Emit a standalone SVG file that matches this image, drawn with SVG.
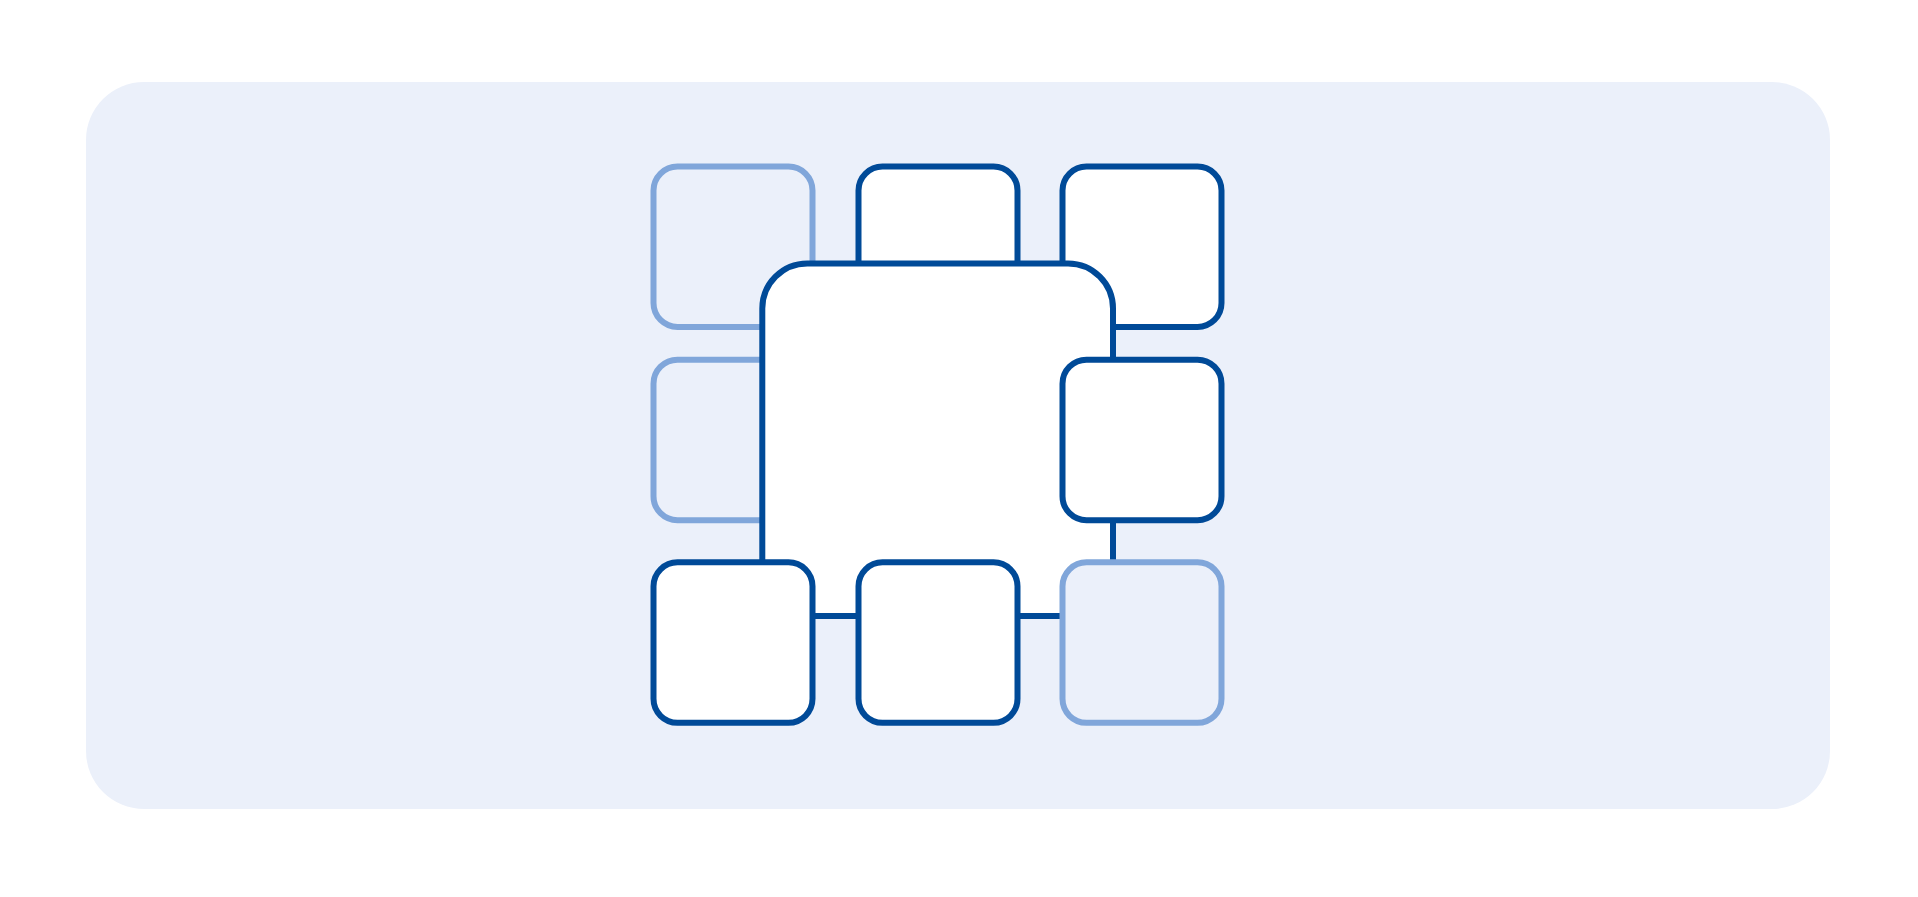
<svg xmlns="http://www.w3.org/2000/svg" width="1918" height="897" viewBox="0 0 1918 897">
  <style>
    .panel { fill: #EBF0FA; }
    .dark { fill: #FFFFFF; stroke: #004A98; stroke-width: 6; }
    .light { fill: #EBF0FA; stroke: #80A6DA; stroke-width: 6; }
  </style>
  <rect width="1918" height="897" fill="#FFFFFF"/>
  <g id="panel">
    <rect class="panel" x="86" y="82" width="1744" height="727" rx="58" ry="58"/>
  </g>
  <g id="tile-r1c1"><rect class="light" x="653.5" y="166.5" width="159" height="160.5" rx="24"/></g>
  <g id="tile-r2c1"><rect class="light" x="653.5" y="359.7" width="159" height="160.5" rx="24"/></g>
  <g id="tile-r1c2"><rect class="dark" x="858.5" y="166.5" width="159" height="160.5" rx="24"/></g>
  <g id="tile-r1c3"><rect class="dark" x="1062.5" y="166.5" width="159" height="160.5" rx="24"/></g>
  <g id="center-box"><rect class="dark" x="762.3" y="263.5" width="350.7" height="352.5" rx="45"/></g>
  <g id="tile-r2c3"><rect class="dark" x="1062.5" y="359.7" width="159" height="160.5" rx="24"/></g>
  <g id="tile-r3c1"><rect class="dark" x="653.5" y="562.3" width="159" height="160.5" rx="24"/></g>
  <g id="tile-r3c2"><rect class="dark" x="858.5" y="562.3" width="159" height="160.5" rx="24"/></g>
  <g id="tile-r3c3"><rect class="light" x="1062.5" y="562.3" width="159" height="160.5" rx="24"/></g>
</svg>
